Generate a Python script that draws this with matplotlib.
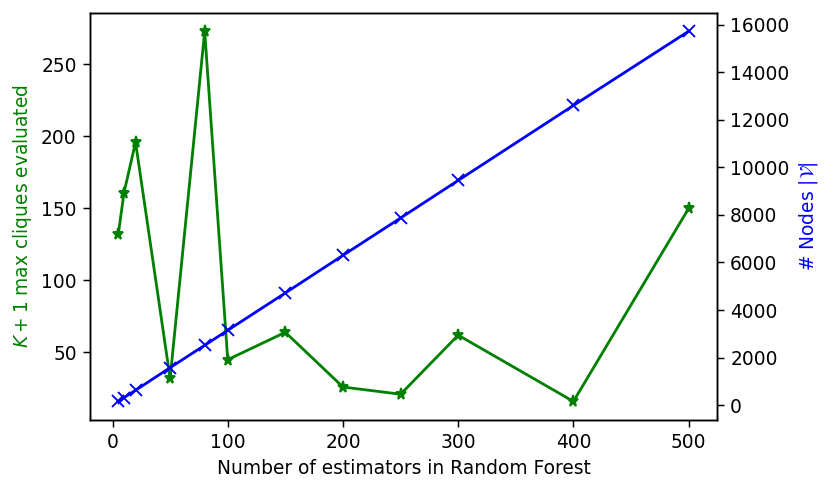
import matplotlib
matplotlib.use("Agg")
import matplotlib.pyplot as plt

n_estimators = [5, 10, 20, 50, 80, 100, 150, 200, 250, 300, 400, 500]
cliques_evaluated = [132, 161, 196, 32, 273, 45, 64, 26, 21, 62, 16, 150]
n_nodes = [160, 320, 630, 1580, 2520, 3150, 4720, 6300, 7870, 9450, 12600, 15720]


def main():
    fig, ax1 = plt.subplots(figsize=(831 / 134, 490 / 134), dpi=134)

    ax1.plot(n_estimators, cliques_evaluated, color="green", marker="*")
    ax1.set_xlabel("Number of estimators in Random Forest")
    ax1.set_ylabel(r"$K+1$ max cliques evaluated", color="green")

    ax2 = ax1.twinx()
    ax2.plot(n_estimators, n_nodes, color="blue", marker="x", markersize=6.5)
    ax2.set_ylabel(r"# Nodes $|\mathcal{V}|$", color="blue")

    fig.subplots_adjust(left=0.108, right=0.863, top=0.974, bottom=0.143)
    fig.savefig("out.png", dpi=134)


if __name__ == "__main__":
    main()
